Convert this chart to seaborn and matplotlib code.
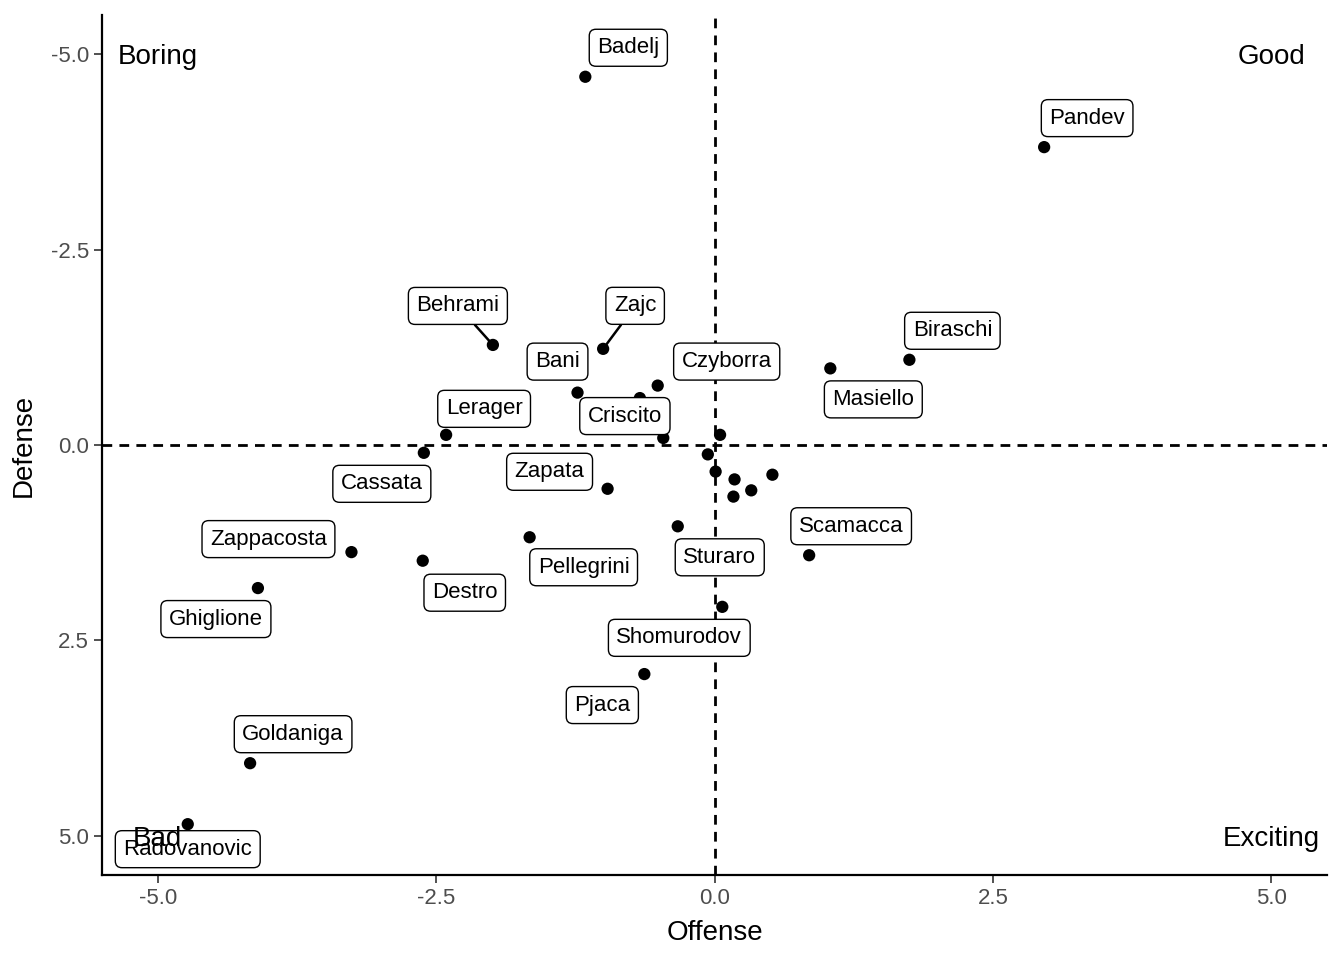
import matplotlib
matplotlib.use("Agg")
import matplotlib.pyplot as plt
import seaborn as sns
import pandas as pd
from matplotlib.ticker import FixedLocator, FuncFormatter

# ---- data ----
players = ["Badelj", "Pandev", "Behrami", "Zajc", "Biraschi", "Masiello", "Bani",
           "Czyborra", "Criscito", "Lerager", "Cassata", "Zapata", "Sturaro",
           "Scamacca", "Pellegrini", "Zappacosta", "Destro", "Ghiglione",
           "Shomurodov", "Pjaca", "Goldaniga", "Radovanovic",
           "", "", "", "", "", "", "", ""]
offense = [-1.16, 2.96, -1.99, -1.00, 1.75, 1.04, -1.23,
           -0.51, -0.67, -2.41, -2.61, -0.96, -0.33,
           0.85, -1.66, -3.26, -2.62, -4.10,
           0.07, -0.63, -4.17, -4.73,
           -0.46, 0.05, -0.06, 0.01, 0.18, 0.52, 0.33, 0.17]
defense = [-4.71, -3.81, -1.28, -1.23, -1.09, -0.98, -0.67,
           -0.76, -0.60, -0.13, 0.10, 0.56, 1.04,
           1.41, 1.18, 1.37, 1.48, 1.83,
           2.07, 2.93, 4.07, 4.85,
           -0.09, -0.13, 0.12, 0.34, 0.44, 0.38, 0.58, 0.66]

quadrant_labels = ["Boring", "Good", "Bad", "Exciting"]
quadrant_x = [-5, 5, -5, 5]
quadrant_y = [-5, -5, 5, 5]

tick_values = [-5.0, -2.5, 0.0, 2.5, 5.0]

# label offsets (pixels; x right, y up) - layout only
label_offsets = {
    "Badelj": (43, 29), "Pandev": (43, 29), "Behrami": (-35, 39), "Zajc": (32, 43),
    "Biraschi": (43, 29), "Masiello": (43, -31), "Bani": (-20, 31),
    "Czyborra": (69, 24), "Criscito": (-15, -18), "Lerager": (38, 26),
    "Cassata": (-42, -31), "Zapata": (-58, 17), "Sturaro": (42, -31),
    "Scamacca": (42, 29), "Pellegrini": (54, -30), "Zappacosta": (-83, 13),
    "Destro": (42, -32), "Ghiglione": (-42, -31), "Shomurodov": (-43, -31),
    "Pjaca": (-42, -31), "Goldaniga": (43, 29), "Radovanovic": (0, -25),
}
segment_labels = {"Behrami", "Zajc"}

df = pd.DataFrame({"player": players, "Offense": offense, "Defense": defense})

sns.set_theme(style="ticks")
plt.rcParams["font.family"] = ["Liberation Sans", "DejaVu Sans"]

fig = plt.figure(figsize=(13.44, 9.6), dpi=100)
ax = fig.add_axes([102 / 1344, 1 - 875 / 960, (1327 - 102) / 1344, (875 - 15) / 960])

ax.axvline(0, color="black", linestyle=(0, (3.5, 2.6)), linewidth=2.0, zorder=1)
ax.axhline(0, color="black", linestyle=(0, (3.5, 2.6)), linewidth=2.0, zorder=1)

sns.scatterplot(data=df, x="Offense", y="Defense", ax=ax, color="black",
                s=78, edgecolor="none", zorder=3)

for name, xv, yv in zip(players, offense, defense):
    if not name:
        continue
    dx, dy = label_offsets[name]
    kw = {}
    if name in segment_labels:
        kw["arrowprops"] = dict(arrowstyle="-", color="black", lw=1.8,
                                shrinkA=0, shrinkB=4)
    ax.annotate(name, xy=(xv, yv), xytext=(dx, dy), textcoords="offset pixels",
                ha="center", va="center", fontsize=16, color="black", zorder=4,
                bbox=dict(boxstyle="round,pad=0.36,rounding_size=0.3", fc="white",
                          ec="black", lw=1.0), **kw)

for t, qx, qy in zip(quadrant_labels, quadrant_x, quadrant_y):
    ax.text(qx, qy, t, ha="center", va="center_baseline", fontsize=20,
            color="black", zorder=5)

ax.set_xlim(-5.5, 5.5)
ax.set_ylim(5.5, -5.5)
ax.xaxis.set_major_locator(FixedLocator(tick_values))
ax.yaxis.set_major_locator(FixedLocator(tick_values))
fmt = FuncFormatter(lambda v, p: f"{v:.1f}")
ax.xaxis.set_major_formatter(fmt)
ax.yaxis.set_major_formatter(fmt)
ax.tick_params(axis="both", labelsize=16, labelcolor="#4d4d4d", color="#333333",
               length=6, width=1.2)
ax.set_xlabel("Offense", fontsize=20, color="black", labelpad=8)
ax.set_ylabel("Defense", fontsize=20, color="black", labelpad=10)
for side in ["top", "right"]:
    ax.spines[side].set_visible(False)
for side in ["left", "bottom"]:
    ax.spines[side].set_linewidth(1.6)
    ax.spines[side].set_color("black")
ax.grid(False)

fig.savefig("out.png", dpi=100)
